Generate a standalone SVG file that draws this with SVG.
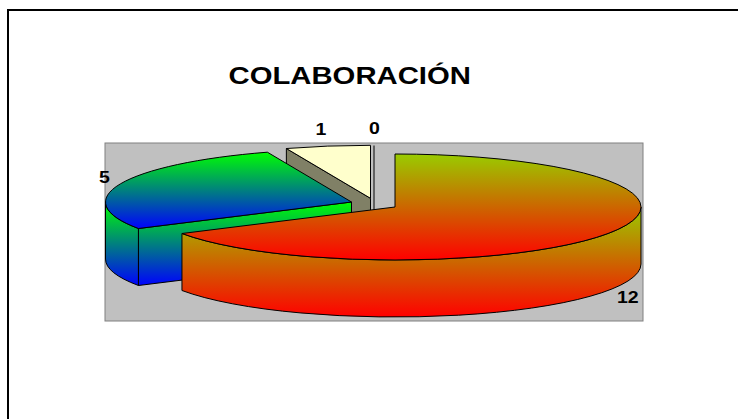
<svg xmlns="http://www.w3.org/2000/svg" width="738" height="419" viewBox="0 0 738 419">
  <defs>
    <linearGradient id="redTop" gradientUnits="userSpaceOnUse" x1="0" y1="154" x2="0" y2="260">
      <stop offset="0" stop-color="#99CC00"/>
      <stop offset="1" stop-color="#FF0000"/>
    </linearGradient>
    <linearGradient id="redSide" gradientUnits="userSpaceOnUse" x1="0" y1="207" x2="0" y2="317">
      <stop offset="0" stop-color="#99CC00"/>
      <stop offset="1" stop-color="#FF0000"/>
    </linearGradient>
    <linearGradient id="greenTop" gradientUnits="userSpaceOnUse" x1="0" y1="152" x2="0" y2="229">
      <stop offset="0" stop-color="#00FF00"/>
      <stop offset="1" stop-color="#0000FF"/>
    </linearGradient>
    <linearGradient id="greenSide" gradientUnits="userSpaceOnUse" x1="0" y1="202" x2="0" y2="286">
      <stop offset="0" stop-color="#00FF00"/>
      <stop offset="1" stop-color="#0000FF"/>
    </linearGradient>
  </defs>
  <style>
    .edge { stroke: #000000; stroke-width: 1; stroke-linejoin: round; }
    .lbl { font-family: "Liberation Sans", Arial, sans-serif; font-weight: bold; fill: #000000; text-anchor: middle; }
  </style>

  <rect x="0" y="0" width="738" height="419" fill="#FFFFFF"/>
  <rect id="frame" x="8" y="10" width="740" height="420" fill="none" stroke="#000000" stroke-width="2"/>

  <g id="plot-area">
    <rect x="105" y="143" width="538" height="178" fill="#C0C0C0" stroke="#808080" stroke-width="1"/>
  </g>

  <g id="slice-1">
    <path class="edge" d="M370.5,198.3 L286.36,148.5 L286.36,205.5 L370.5,255.3 Z" fill="#808066"/>
    <path class="edge" d="M370.5,198.3 L286.36,148.5 A246,53 0 0 1 370.5,145.3 Z" fill="#FFFFCC"/>
  </g>

  <g id="slice-0">
    <line class="edge" x1="374" y1="145.5" x2="374" y2="255.7"/>
  </g>

  <g id="slice-5">
    <path class="edge" d="M138.46,228.5 A246,53 0 0 1 105.5,202 L105.5,259 A246,53 0 0 0 138.46,285.5 Z" fill="url(#greenSide)"/>
    <path class="edge" d="M351.5,202 L138.46,228.5 L138.46,285.5 L351.5,259 Z" fill="url(#greenSide)"/>
    <path class="edge" d="M351.5,202 L138.46,228.5 A246,53 0 0 1 267.36,152.2 Z" fill="url(#greenTop)"/>
  </g>

  <g id="slice-12">
    <path class="edge" d="M641,207 A246,53 0 0 1 181.96,233.5 L181.96,290.5 A246,53 0 0 0 641,264 Z" fill="url(#redSide)"/>
    <path class="edge" d="M395,207 L395,154 A246,53 0 1 1 181.96,233.5 Z" fill="url(#redTop)"/>
  </g>

  <g id="labels">
    <text class="lbl" font-size="24" transform="translate(349.7,84) scale(1.22,1)">COLABORACIÓN</text>
    <text class="lbl" font-size="16" transform="translate(104.3,183) scale(1.22,1)">5</text>
    <text class="lbl" font-size="16" transform="translate(321,135) scale(1.22,1)">1</text>
    <text class="lbl" font-size="16" transform="translate(374.3,134) scale(1.22,1)">0</text>
    <text class="lbl" font-size="16" transform="translate(627.8,303) scale(1.22,1)">12</text>
  </g>
</svg>
